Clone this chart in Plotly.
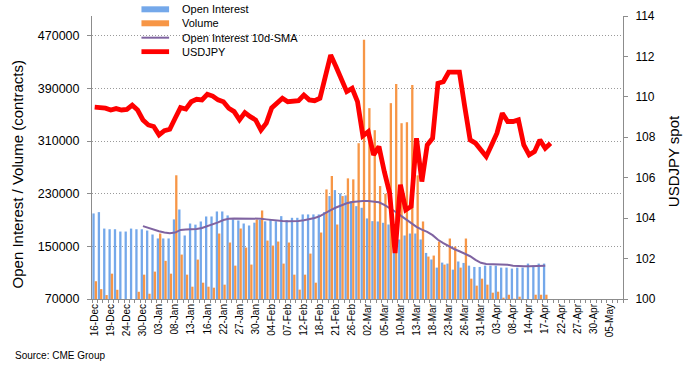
import plotly.graph_objects as go

# ---------------- data ----------------
dates = ["16-Dec","17-Dec","18-Dec","19-Dec","20-Dec","23-Dec","24-Dec","26-Dec","27-Dec","30-Dec","31-Dec",
         "02-Jan","03-Jan","06-Jan","07-Jan","08-Jan","09-Jan","10-Jan","13-Jan","14-Jan","15-Jan","16-Jan","17-Jan",
         "21-Jan","22-Jan","23-Jan","24-Jan","27-Jan","28-Jan","29-Jan","30-Jan","31-Jan",
         "03-Feb","04-Feb","05-Feb","06-Feb","07-Feb","10-Feb","11-Feb","12-Feb","13-Feb","14-Feb","18-Feb","19-Feb",
         "20-Feb","21-Feb","24-Feb","25-Feb","26-Feb","27-Feb","28-Feb",
         "02-Mar","03-Mar","04-Mar","05-Mar","06-Mar","09-Mar","10-Mar","11-Mar","12-Mar","13-Mar","16-Mar","17-Mar",
         "18-Mar","19-Mar","20-Mar","23-Mar","24-Mar","25-Mar","26-Mar","27-Mar","30-Mar","31-Mar",
         "01-Apr","02-Apr","03-Apr","06-Apr","07-Apr","08-Apr","09-Apr","13-Apr","14-Apr","15-Apr","16-Apr","17-Apr",
         "20-Apr","21-Apr","22-Apr","23-Apr","24-Apr","27-Apr","28-Apr","29-Apr","30-Apr",
         "01-May","04-May","05-May","06-May","07-May"]

tick_labels = ["16-Dec","19-Dec","24-Dec","30-Dec","03-Jan","08-Jan","13-Jan","16-Jan","22-Jan","27-Jan","30-Jan",
               "04-Feb","07-Feb","12-Feb","18-Feb","21-Feb","26-Feb","02-Mar","05-Mar","10-Mar","13-Mar","18-Mar",
               "23-Mar","26-Mar","31-Mar","03-Apr","08-Apr","14-Apr","17-Apr","22-Apr","27-Apr","30-Apr","05-May"]

open_interest = [200000,202000,177000,176000,176000,172500,172500,177000,176000,176000,174000,
                 168000,162000,162000,162000,191000,206000,166500,184700,183000,187800,195400,195400,
                 203000,203000,197000,191000,189300,184700,181700,186000,190000,
                 188000,191000,188200,195900,189800,193400,193400,198500,198500,198500,198500,202000,
                 226400,235500,230400,227400,218700,211100,208600,
                 192400,188300,187800,185800,183200,160400,160400,166500,169500,169500,160400,140000,
                 130000,117700,125300,123800,114600,127000,124800,120700,118700,118700,
                 120700,120700,120700,117700,117700,116200,117700,117700,123800,120700,123800,123800]

volume = [97000,85000,76000,108500,84000,60000,60000,60000,81000,107000,78000,
          111600,169500,128000,108500,258000,137500,107000,88700,129900,94800,88700,87200,
          169500,91800,155800,120700,177100,148200,122300,190800,204500,
          158800,151200,157300,123800,155800,107000,84200,107000,139000,94800,171000,236500,
          256900,183200,226400,253300,251800,306700,464000,
          360000,326500,241600,230000,367600,396500,337100,338600,395000,257900,187800,134500,
          136000,157300,122300,161900,149700,117700,161900,100900,90300,100900,
          91800,79600,81100,72000,76500,70500,73500,60000,60000,76500,76500,76500]

oi_sma10 = [None,None,None,None,None,None,None,None,None,180700,178000,
            175000,173000,171000,170000,171000,175000,175500,175500,176500,178000,180500,183000,
            186500,190000,192000,192500,192500,192500,192500,192500,192000,
            191000,190000,189500,188500,188300,188300,188500,189500,190800,193000,196000,201000,
            205000,209000,212500,215500,217500,218700,219000,
            219000,218500,217000,213000,208500,203000,197000,191000,185000,179500,175500,172000,
            167000,160000,155000,150000,146000,142500,139000,135000,129500,125000,
            123300,123000,123000,123000,122000,120500,119700,119700,119700,120000,120500,120700]

usdjpy = [109.49,109.49,109.44,109.35,109.42,109.35,109.38,109.59,109.35,108.86,108.61,
          108.53,108.12,108.33,108.40,108.94,109.47,109.40,109.76,109.88,109.85,110.13,110.04,
          109.85,109.76,109.44,109.27,108.86,109.22,109.02,108.86,108.36,
          108.70,109.45,109.70,109.93,109.76,109.76,109.81,110.09,109.85,109.81,109.93,111.00,
          112.07,111.49,110.92,110.26,110.42,109.76,108.07,
          108.28,107.13,107.54,106.30,105.24,102.27,105.65,104.41,104.58,107.95,105.81,107.62,
          107.95,110.67,110.75,111.22,111.22,111.22,109.50,107.87,107.71,107.38,
          107.05,107.62,108.20,109.19,108.78,108.78,108.86,107.62,107.13,107.29,107.87,107.46,
          107.71]

left_ticks = [70000, 150000, 230000, 310000, 390000, 470000]
right_ticks = [100, 102, 104, 106, 108, 110, 112, 114]

# ---------------- styling ----------------
W, H = 690, 370
L, R, T, B = 92.3, 622.7, 16.0, 299.3
FONT = "Liberation Sans, Arial, sans-serif"
BLUE = "#74A8EA"
ORANGE = "#F79646"
PURPLE = "#7F63A1"
RED = "#FF0000"
AXIS = "#8C8C8C"


def px_x(px):
    return (px - L) / (R - L)


def px_y(py):
    return (B - py) / (B - T)


fig = go.Figure()
fig.add_trace(go.Bar(x=dates[:len(open_interest)], y=open_interest, name="Open Interest",
                     marker=dict(color=BLUE, line=dict(width=0)), yaxis="y"))
fig.add_trace(go.Bar(x=dates[:len(volume)], y=volume, name="Volume",
                     marker=dict(color=ORANGE, line=dict(width=0)), yaxis="y"))
fig.add_trace(go.Scatter(x=dates[:len(oi_sma10)], y=oi_sma10, name="Open Interest 10d-SMA", mode="lines",
                         line=dict(color=PURPLE, width=2), yaxis="y"))
fig.add_trace(go.Scatter(x=dates[:len(usdjpy)], y=usdjpy, name="USDJPY", mode="lines",
                         line=dict(color=RED, width=4.8), yaxis="y2"))

fig.update_layout(
    width=W, height=H,
    margin=dict(l=L, r=W - R, t=T, b=H - B, autoexpand=False),
    paper_bgcolor="white", plot_bgcolor="white",
    font=dict(family=FONT, size=12, color="black"),
    showlegend=False,
    barmode="group", bargap=0.14, bargroupgap=0.0,
    xaxis=dict(type="category", categoryorder="array", categoryarray=dates,
               range=[-0.5, len(dates) - 0.5],
               tickmode="array", tickvals=dates,
               ticktext=[d if d in tick_labels else "" for d in dates],
               tickson="boundaries", ticks="outside", ticklen=3, tickcolor=AXIS,
               tickangle=-90, tickfont=dict(size=10, family=FONT),
               showline=True, linecolor=AXIS, linewidth=1, showgrid=False, zeroline=False,
               automargin=False, fixedrange=True),
    yaxis=dict(range=[70000, 500000], tickmode="array", tickvals=left_ticks,
               ticktext=[str(v) for v in left_ticks],
               ticks="outside", ticklen=4, tickcolor=AXIS, ticklabelstandoff=5,
               tickfont=dict(size=12.5, family=FONT),
               showline=True, linecolor=AXIS, linewidth=1,
               showgrid=True, gridcolor="#9A9A9A", griddash="1px,2px", gridwidth=1,
               zeroline=False, automargin=False),
    yaxis2=dict(range=[100, 114], tickmode="array", tickvals=right_ticks,
                ticks="outside", ticklen=4, tickcolor=AXIS, ticklabelstandoff=5,
                tickfont=dict(size=12, family=FONT),
                overlaying="y", side="right", showline=True, linecolor=AXIS, linewidth=1,
                showgrid=False, zeroline=False, automargin=False),
)

# axis titles and source
ann = [
    dict(text="Open Interest / Volume (contracts)", x=px_x(18), y=px_y(175), textangle=-90,
         font=dict(size=15, family=FONT)),
    dict(text="USDJPY spot", x=px_x(673), y=px_y(161), textangle=-90,
         font=dict(size=15, family=FONT)),
    dict(text="Source: CME Group", x=px_x(13), y=px_y(355.5), xanchor="left",
         font=dict(size=10, family=FONT)),
]

# manual legend (compact, like the reference)
legend_items = [("Open Interest", "bar", BLUE, 9.3), ("Volume", "bar", ORANGE, 23.3),
                ("Open Interest 10d-SMA", "line", PURPLE, 37.7), ("USDJPY", "line", RED, 51.7)]
shapes = []
for name, kind, color, py in legend_items:
    if kind == "bar":
        shapes.append(dict(type="rect", xref="paper", yref="paper",
                           x0=px_x(141.7), x1=px_x(169.3), y0=px_y(py + 3), y1=px_y(py - 3),
                           fillcolor=color, line=dict(width=0)))
    else:
        shapes.append(dict(type="line", xref="paper", yref="paper",
                           x0=px_x(141.7), x1=px_x(169.3), y0=px_y(py), y1=px_y(py),
                           line=dict(color=color, width=2 if color == PURPLE else 4.8)))
    ann.append(dict(text=name, x=px_x(180), y=px_y(py), xanchor="left", yanchor="middle",
                    font=dict(size=11, family=FONT)))

for a in ann:
    a.setdefault("xref", "paper")
    a.setdefault("yref", "paper")
    a.setdefault("showarrow", False)
    a.setdefault("xanchor", "center")
    a.setdefault("yanchor", "middle")
fig.update_layout(annotations=ann, shapes=shapes)

fig.write_html("out.html", config={"displayModeBar": False},
               post_script="document.body.style.margin='0px';document.body.style.overflow='hidden';")
